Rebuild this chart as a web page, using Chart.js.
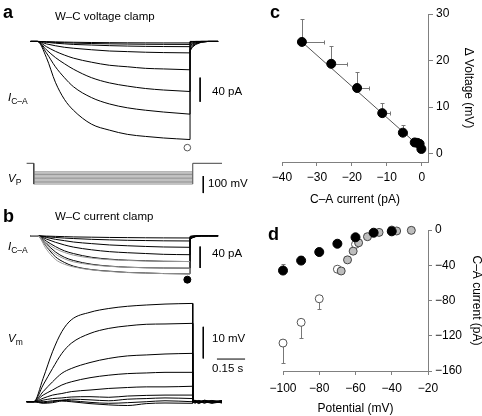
<!DOCTYPE html>
<html>
<head>
<meta charset="utf-8">
<script src="https://cdn.jsdelivr.net/npm/chart.js@4/dist/chart.umd.min.js"></script>
<style>
  body { margin: 0; background: #fff; }
  #fig { position: relative; width: 482px; height: 416px; overflow: hidden;
         font-family: "Liberation Sans", Arial, sans-serif; color: #000; }
  #fig canvas { position: absolute; }
  .lbl { position: absolute; white-space: nowrap; font-size: 11.5px; line-height: 12px; }
  .panel { position: absolute; font-weight: bold; font-size: 18px; line-height: 18px; }
  .lbl sub { font-size: 8.5px; vertical-align: -3px; }
</style>
</head>
<body>
<div id="fig">
  <canvas id="a-current" width="250" height="140" style="left:0;top:20px"></canvas>
  <canvas id="a-vp" width="250" height="40" style="left:0;top:158px"></canvas>
  <canvas id="b-current" width="250" height="70" style="left:0;top:222px"></canvas>
  <canvas id="b-vm" width="250" height="125" style="left:0;top:290px"></canvas>
  <canvas id="c-chart" width="242" height="210" style="left:240px;top:0"></canvas>
  <canvas id="d-chart" width="242" height="206" style="left:240px;top:210px"></canvas>

  <div class="panel" style="left:3px;top:3px">a</div>
  <div class="lbl" style="left:55px;top:10px">W–C voltage clamp</div>
  <div class="lbl" style="left:8px;top:91px"><i>I</i><sub>C–A</sub></div>
  <div class="lbl" style="left:212px;top:85px">40 pA</div>
  <div class="lbl" style="left:8px;top:172px"><i>V</i><sub>P</sub></div>
  <div class="lbl" style="left:208px;top:177px">100 mV</div>

  <div class="panel" style="left:3px;top:207px">b</div>
  <div class="lbl" style="left:55px;top:210px">W–C current clamp</div>
  <div class="lbl" style="left:8px;top:240px"><i>I</i><sub>C–A</sub></div>
  <div class="lbl" style="left:212px;top:247px">40 pA</div>
  <div class="lbl" style="left:8px;top:332px"><i>V</i><sub>m</sub></div>
  <div class="lbl" style="left:212px;top:332px">10 mV</div>
  <div class="lbl" style="left:212px;top:362px">0.15 s</div>

  <div class="panel" style="left:270px;top:3px">c</div>
  <div class="panel" style="left:268px;top:225px">d</div>
</div>

<script>
'use strict';

// *********** DATA ****************

// sample times (s) of the traces; step on at 0, off at stepEnd
const stepEnd = 0.848;
const traceTimes = [-0.038, 0, 0.05, 0.1, 0.15, 0.2, 0.3, 0.4, 0.5, 0.6, 0.7, 0.848];
const tailTimes = [0.848, 0.86, 0.88, 0.91, 0.95, 1.004];

// a: C-A current under voltage clamp (pA)
const vcCurrents = [
  [0, 0, -26.7, -67.7, -96, -114, -137, -147, -154, -157.4, -160, -162.6],
  [0, 0, -19, -42, -60, -75, -93, -103.6, -110, -114, -117, -120.5],
  [0, 0, -13.8, -26.7, -36.9, -46, -60, -68.7, -74, -78, -80.5, -83],
  [0, 0, -8.7, -16.4, -22.6, -27.7, -34.4, -39.5, -42, -44.6, -45.6, -47],
  [0, 0, -4.1, -7.2, -9.7, -11.3, -13.8, -15.9, -16.9, -17.9, -18.5, -19],
  [0, 0, -1.5, -3, -4, -5, -6, -7, -7.7, -8.2, -8.5, -8.7],
  [0, 0, -0.8, -1.6, -2.2, -2.8, -3.5, -4, -4.4, -4.7, -4.9, -5],
  [0, 0, -0.4, -0.8, -1.1, -1.4, -1.8, -2.1, -2.3, -2.4, -2.5, -2.5]
];
const vcTails = [
  [-16, -10, -5, -1.5, 0, 0],
  [-13, -8, -4, -1, 0, 0],
  [-10, -6, -3, -1, 0, 0],
  [-7, -4, -2, -0.5, 0, 0],
  [-4, -2.5, -1, 0, 0, 0],
  [-2, -1, -0.5, 0, 0, 0],
  [-1, -0.5, 0, 0, 0, 0],
  [0, 0, 0, 0, 0, 0]
];
const vcMarker = { t: 0.833, i: -176 };

// a: command potentials (mV)
const vpHold = -30;
const vpSteps = [-80, -88, -96, -104, -112, -120, -128, -136, -144, -152];

// b: C-A current under current clamp (pA), with grey fitted curves
const ccCurrents = [
  [0, 0, -20, -39, -49.6, -56.5, -63, -66, -68.3, -69.3, -70.4, -71],
  [0, 0, -15, -30, -40, -46, -53, -56.5, -58.5, -59.5, -60, -60.3],
  [0, 0, -10, -20, -28, -33, -40, -43.5, -45.5, -46.5, -47.5, -48],
  [0, 0, -6, -12, -17, -21, -26, -29.5, -31.5, -33, -34.5, -35.2],
  [0, 0, -3, -6.5, -9, -11.5, -14.5, -17, -18.5, -19.8, -20.8, -21.4],
  [0, 0, -1.5, -3, -4.2, -5, -6.5, -7.5, -8.3, -8.8, -9.3, -9.6],
  [0, 0, -0.5, -1, -1.5, -2, -2.5, -3, -3.3, -3.6, -3.8, -4]
];
const ccFits = [
  [0, 0, -25, -44, -53, -58, -63.5, -66.5, -68.5, -69.5, -70.4, -71],
  [0, 0, -19, -34, -43, -48.5, -54, -57, -58.8, -59.6, -60, -60.3],
  [0, 0, -13, -24, -31, -36, -41.5, -44.5, -46, -47, -47.6, -48]
];
const ccTails = [
  [-7, -4, -1.5, 0, 0, 0],
  [-6, -3.5, -1, 0, 0, 0],
  [-5, -3, -1, 0, 0, 0],
  [-4, -2, -0.5, 0, 0, 0],
  [-3, -1.5, 0, 0, 0, 0],
  [-2, -1, 0, 0, 0, 0],
  [-1, 0, 0, 0, 0, 0]
];
const ccMarker = { t: 0.833, i: -81.8 };

// b: membrane potential change (mV)
const vmTraces = [
  [0, 0, 7.4, 15.8, 22.2, 25.9, 28.3, 29.5, 30.2, 30.6, 30.9, 31.1],
  [0, 0, 5.3, 10.5, 15.3, 18.5, 21.6, 23.2, 24, 24.5, 24.6, 24.8],
  [0, 0, 3.2, 6.3, 9, 10.5, 12.4, 13.7, 14.5, 14.8, 15.1, 15.3],
  [0, 0, 2.1, 3.7, 5.3, 6.3, 7.6, 8.4, 8.9, 9.1, 9.3, 9.3],
  [0, 0, 1.1, 2.1, 2.6, 3.2, 3.7, 4.2, 4.5, 4.7, 4.7, 4.9],
  [0, 0, 0.5, 1, 1.2, 1.5, 1.6, 1.4, 1.8, 2, 2.1, 2.1],
  [0, 0, 0, 0.3, 0.5, 0.8, 0.6, 0.3, 0.8, 1, 1.2, 1.0],
  [0, 0, -0.3, 0, 0.4, 0.3, -0.2, -0.5, -0.3, 0, 0.3, 0],
  [0, 0, -0.5, -0.3, 0.2, 0, -0.6, -1, -1.2, -0.6, -0.4, -0.5]
];
const vmTails = [
  [0.6, 0.2, -0.4, 0.3, -0.2, 0.2],
  [0.4, -0.3, 0.2, -0.5, 0.3, -0.2],
  [0.2, 0.5, -0.2, 0.1, -0.4, 0.3],
  [-0.3, 0.2, 0.4, -0.2, 0.2, -0.4],
  [0, -0.5, 0.1, 0.4, -0.3, 0.1],
  [0.3, 0, -0.6, 0.2, 0.4, -0.1],
  [-0.2, 0.4, 0, -0.3, 0.1, 0.4],
  [0.1, -0.2, 0.3, 0, -0.5, 0],
  [-0.4, 0.1, -0.3, 0.5, 0, -0.3]
];

// scale bars (in data units)
const barPA = 40, barVp = 100, barMV = 10, barTime = 0.15;

// c: delta voltage vs C-A current
const cCurrent = [-34.3, -25.9, -18.5, -11.3, -5.4, -2.0, -1.2, -0.6, -0.1];
const cVoltage = [24.0, 19.3, 14.1, 8.7, 4.5, 2.4, 2.3, 2.1, 1.0];
const cCurrentErr = [6.4, 4.6, 3.3, 2.1, 1.3, 0, 0, 0, 0];
const cVoltageErr = [4.9, 3.8, 3.4, 2.2, 1.7, 1.0, 0, 0, 0];
const cFitX = [-34.3, -0.3];
const cFitY = [24.0, 1.3];
const cTicksX = [-40, -30, -20, -10, 0];
const cTicksY = [0, 10, 20, 30];

// d: C-A current vs potential
const dBlackV = [-100, -90, -80, -70, -60, -50, -40];
const dBlackI = [-46, -34.7, -25, -15.6, -8.3, -3.1, -1.5];
const dBlackErr = [7.5, 4.7, 0, 0, 0, 0, 0];
const dOpenV = [-100, -90, -80, -70, -60, -40];
const dOpenI = [-128.3, -104.8, -78, -44.5, -16.3, 0];
const dOpenErr = [-22.7, -18.2, -11.5, 0, 0, 0];
const dGreyV = [-67.9, -64.4, -61.3, -58.3, -53.4, -47, -37.3, -29.2];
const dGreyI = [-46.5, -33.9, -24, -14.5, -7.6, -2.7, -1.1, -0.4];
const dTicksX = [-100, -80, -60, -40, -20];
const dTicksY = [-160, -120, -80, -40, 0];

// ********** HELPERS ********************

const AXIS_GREY = '#808080';
const ERR_GREY = '#777';
const T_MIN = -0.18;
const T_MAX = 1.1533;
const BAR_T = 0.904;
const rightFont = { family: '"Liberation Sans", Arial, sans-serif', size: 12 };

Chart.defaults.font.family = '"Liberation Sans", Arial, sans-serif';

function pts(xs, ys) {
  return xs.map((x, i) => ({ x: x, y: ys[i] }));
}

function lineSet(data, color, smooth, width) {
  return {
    data: data, showLine: true, borderColor: color, borderWidth: width || 1,
    pointRadius: 0, fill: false, tension: 0,
    cubicInterpolationMode: smooth ? 'monotone' : 'default'
  };
}

function traceSets(traces, tails, color) {
  let sets = [];
  for (let k = 0; k < traces.length; k++) {
    sets.push(lineSet(pts(traceTimes, traces[k]), color, true));
    if (tails) {
      let last = traces[k][traces[k].length - 1];
      let after = [{ x: stepEnd, y: last }].concat(pts(tailTimes, tails[k]));
      sets.push(lineSet(after, color, false));
    }
  }
  return sets;
}

function markerSet(m, fill, border, r) {
  return {
    data: [{ x: m.t, y: m.i }], showLine: false, pointRadius: r,
    pointBackgroundColor: fill, pointBorderColor: border, pointBorderWidth: 1
  };
}

function traceChart(id, datasets, yMin, yMax) {
  new Chart(document.getElementById(id), {
    type: 'scatter',
    data: { datasets: datasets },
    options: {
      responsive: false, animation: false, events: [],
      layout: { padding: 0 },
      plugins: { legend: { display: false }, tooltip: { enabled: false } },
      scales: {
        x: { type: 'linear', display: false, min: T_MIN, max: T_MAX },
        y: { type: 'linear', display: false, min: yMin, max: yMax }
      }
    }
  });
}

function fmtMinus(v) {
  return v < 0 ? '\u2212' + Math.abs(v) : String(v);
}

function axis(min, max, ticks, tickLen, pad, title, titlePad, size) {
  return {
    type: 'linear', min: min, max: max,
    afterBuildTicks: s => { s.ticks = ticks.map(v => ({ value: v })); },
    afterFit: s => { if (size.h) { s.height = size.h; } if (size.w) { s.width = size.w; } },
    grid: { drawOnChartArea: false, drawTicks: true, tickLength: tickLen, color: AXIS_GREY },
    border: { display: true, color: AXIS_GREY, width: 1 },
    ticks: { font: rightFont, color: '#000', padding: pad, autoSkip: false, maxRotation: 0,
      callback: v => fmtMinus(v) },
    title: { display: true, text: title, color: '#000', padding: titlePad,
      font: Object.assign({}, rightFont, { lineHeight: 1 }) }
  };
}

// draws error bars (with small caps) from dataset.errX / dataset.errY
const errorBarPlugin = {
  id: 'errorBars',
  beforeDatasetsDraw(chart) {
    let ctx = chart.ctx;
    let xs = chart.scales.x;
    let ys = chart.scales.y;
    function seg(x1, y1, x2, y2) {
      ctx.beginPath();
      ctx.moveTo(Math.round(x1) + 0.5, Math.round(y1) + 0.5);
      ctx.lineTo(Math.round(x2) + 0.5, Math.round(y2) + 0.5);
      ctx.stroke();
    }
    ctx.save();
    ctx.strokeStyle = ERR_GREY;
    ctx.lineWidth = 1;
    chart.data.datasets.forEach(ds => {
      if (!ds.errX && !ds.errY) { return; }
      ds.data.forEach((p, i) => {
        let px = xs.getPixelForValue(p.x);
        let py = ys.getPixelForValue(p.y);
        if (ds.errX && ds.errX[i]) {
          let qx = xs.getPixelForValue(p.x + ds.errX[i]);
          seg(px, py, qx, py);
          seg(qx, py - 2, qx, py + 2);
        }
        if (ds.errY && ds.errY[i]) {
          let qy = ys.getPixelForValue(p.y + ds.errY[i]);
          seg(px, py, px, qy);
          seg(px - 2, qy, px + 2, qy);
        }
      });
    });
    ctx.restore();
  }
};

// ********** PANEL a ********************

let aSets = traceSets(vcCurrents, vcTails, '#000');
aSets.push(lineSet([{ x: BAR_T, y: -60 }, { x: BAR_T, y: -60 - barPA }], '#000', false));
aSets.push(markerSet(vcMarker, '#fff', '#555', 3.3));
traceChart('a-current', aSets, -188.2, 27.2);

// step lines drawn thin and grey so they read as stripes, holding lines black
let vpSets = vpSteps.map(v => lineSet([
  { x: 0, y: v }, { x: stepEnd, y: v }
], '#6a6a6a', false, 0.7));
vpSets.push(lineSet([
  { x: traceTimes[0], y: vpHold }, { x: 0, y: vpHold }, { x: 0, y: vpSteps[vpSteps.length - 1] }
], '#444', false));
vpSets.push(lineSet([
  { x: stepEnd, y: vpSteps[vpSteps.length - 1] }, { x: stepEnd, y: vpHold },
  { x: tailTimes[tailTimes.length - 1], y: vpHold }
], '#444', false));
vpSets.push(lineSet([{ x: BAR_T, y: -105 }, { x: BAR_T, y: -105 - barVp }], '#000', false));
traceChart('a-vp', vpSets, -234, 1.2);

// ********** PANEL b ********************

let bSets = traceSets(ccFits, null, '#9a9a9a').concat(traceSets(ccCurrents, ccTails, '#000'));
bSets.push(lineSet([{ x: BAR_T, y: -20 }, { x: BAR_T, y: -20 - barPA }], '#000', false));
bSets.push(markerSet(ccMarker, '#000', '#000', 3.5));
traceChart('b-current', bSets, -95.5, 16.5);

let vmSets = traceSets(vmTraces, vmTails, '#000');
vmSets.push(lineSet([{ x: BAR_T, y: 23.7 }, { x: BAR_T, y: 23.7 - barMV }], '#000', false));
vmSets.push(lineSet([{ x: 0.977, y: 13.5 }, { x: 0.977 + barTime, y: 13.5 }], '#000', false));
traceChart('b-vm', vmSets, -4.2, 35.35);

// ********** PANEL c ********************

new Chart(document.getElementById('c-chart'), {
  type: 'scatter',
  data: {
    datasets: [
      {
        data: pts(cCurrent, cVoltage), errX: cCurrentErr, errY: cVoltageErr,
        pointRadius: 4.5, pointBackgroundColor: '#000', pointBorderColor: '#000',
        clip: false, order: 1
      },
      Object.assign(lineSet(pts(cFitX, cFitY), '#555', false), { order: 2 })
    ]
  },
  options: {
    responsive: false, animation: false, events: [],
    layout: { padding: { left: 42, top: 14, right: 0, bottom: 0 } },
    plugins: { legend: { display: false }, tooltip: { enabled: false } },
    scales: {
      x: axis(-40, 1.8, cTicksX, 4, 4, 'C–A current (pA)', { top: 0, bottom: 4 }, { h: 48 }),
      y: Object.assign(axis(-1.8, 30, cTicksY, 5, 3, 'Δ Voltage (mV)', { top: 8, bottom: 0 }, { w: 54 }),
        { position: 'right' })
    }
  },
  plugins: [errorBarPlugin]
});

// ********** PANEL d ********************

new Chart(document.getElementById('d-chart'), {
  type: 'scatter',
  data: {
    datasets: [
      {
        data: pts(dBlackV, dBlackI), errY: dBlackErr, pointRadius: 4.5,
        pointBackgroundColor: '#000', pointBorderColor: '#000', clip: false, order: 1
      },
      {
        data: pts(dGreyV, dGreyI), pointRadius: 4,
        pointBackgroundColor: '#bdbdbd', pointBorderColor: '#444', pointBorderWidth: 1,
        clip: false, order: 2
      },
      {
        data: pts(dOpenV, dOpenI), errY: dOpenErr, pointRadius: 4,
        pointBackgroundColor: '#fff', pointBorderColor: '#555', pointBorderWidth: 1,
        clip: false, order: 3
      }
    ]
  },
  options: {
    responsive: false, animation: false, events: [],
    layout: { padding: { left: 43, top: 20, right: 0, bottom: 0 } },
    plugins: { legend: { display: false }, tooltip: { enabled: false } },
    scales: {
      x: axis(-100, -20, dTicksX, 4, 6, 'Potential (mV)', { top: 0, bottom: 1.5 }, { h: 45 }),
      y: Object.assign(axis(-160, 0, dTicksY, 4, 3, 'C–A current (pA)', { top: 0, bottom: 0 }, { w: 54 }),
        { position: 'right' })
    }
  },
  plugins: [errorBarPlugin]
});
</script>
</body>
</html>
